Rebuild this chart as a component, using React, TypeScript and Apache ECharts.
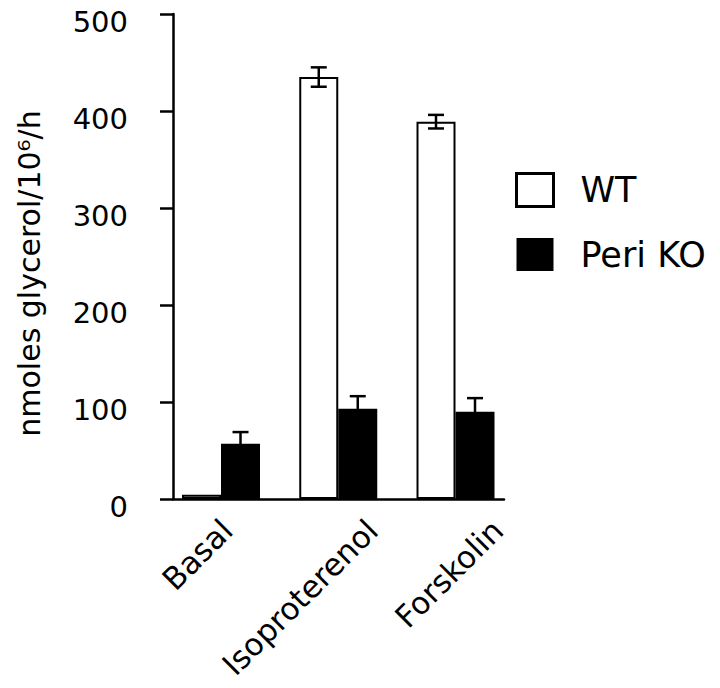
import React, { useEffect, useRef } from "react";
import * as echarts from "echarts";

const categories = ["Basal", "Isoproterenol", "Forskolin"];
const seriesNames = ["WT", "Peri KO"];
const wtMeans = [4.5, 435, 389];
const wtErrors = [0, 10, 7];
const koMeans = [57, 93, 90];
const koErrors = [12, 13, 14];
const yTicks = [0, 100, 200, 300, 400, 500];
const yTitle = "nmoles glycerol/10⁶/h";

const FONT = "DejaVu Sans";
const labelShift = [6, 34, 42];

export default function App() {
  const ref = useRef<HTMLDivElement>(null);
  useEffect(() => {
    if (!ref.current) return;
    const chart = echarts.init(ref.current, null, { renderer: "svg" });
    const xs = categories.map((_, i) => i + 1);
    const barW = 39;

    const errSeries = (name: string, means: number[], errs: number[], side: number) => ({
      type: "custom",
      name,
      z: 5,
      data: xs.map((x, i) => [x, means[i], errs[i]]),
      renderItem: (params: any, api: any) => {
        const x = api.value(0);
        const m = api.value(1);
        const e = api.value(2);
        if (!e) return null;
        const top = api.coord([x, m + e]);
        const bot = api.coord([x, m - e]);
        const cx = top[0] + side * barW / 2;
        const cap = 8;
        const st = { stroke: "#000", lineWidth: 2.5 };
        return {
          type: "group",
          children: [
            { type: "line", shape: { x1: cx, y1: top[1], x2: cx, y2: bot[1] }, style: st },
            { type: "line", shape: { x1: cx - cap, y1: top[1], x2: cx + cap, y2: top[1] }, style: st },
            { type: "line", shape: { x1: cx - cap, y1: bot[1], x2: cx + cap, y2: bot[1] }, style: st },
          ],
        };
      },
    });

    const option: any = {
      animation: false,
      backgroundColor: "#fff",
      textStyle: { fontFamily: FONT },
      grid: { left: 173, top: 14, width: 331, height: 485 },
      xAxis: {
        type: "value",
        min: 0.5906,
        max: 3.4136,
        axisLine: { show: true, onZero: false, lineStyle: { color: "#000", width: 2.5 } },
        axisTick: { show: false },
        axisLabel: { show: false },
        splitLine: { show: false },
      },
      yAxis: {
        type: "value",
        min: yTicks[0],
        max: yTicks[yTicks.length - 1],
        interval: yTicks[1] - yTicks[0],
        axisLine: { show: true, lineStyle: { color: "#000", width: 2.5 } },
        axisTick: { show: true, inside: false, length: 13, lineStyle: { color: "#000", width: 2.5 } },
        axisLabel: {
          color: "#000",
          fontSize: 29,
          fontFamily: FONT,
          margin: 45,
          verticalAlign: "top",
          lineHeight: 15,
        },
        splitLine: { show: false },
      },
      legend: {
        orient: "vertical",
        left: 515,
        top: 172,
        padding: 0,
        itemWidth: 37,
        itemHeight: 33,
        itemGap: 29,
        icon: "rect",
        data: [
          { name: seriesNames[0], itemStyle: { color: "#fff", borderColor: "#000", borderWidth: 3 } },
          { name: seriesNames[1], itemStyle: { color: "#000", borderWidth: 0 } },
        ],
        textStyle: { fontSize: 35, color: "#000", fontFamily: FONT, padding: [0, 0, 0, 22] },
      },
      series: [
        {
          type: "bar",
          name: seriesNames[0],
          barWidth: barW,
          barGap: "0%",
          data: xs.map((x, i) => [x, wtMeans[i]]),
          itemStyle: { color: "#fff", borderColor: "#000", borderWidth: 2 },
        },
        {
          type: "bar",
          name: seriesNames[1],
          barWidth: barW,
          barGap: "0%",
          data: xs.map((x, i) => [x, koMeans[i]]),
          itemStyle: { color: "#000" },
        },
        errSeries("WT SEM", wtMeans, wtErrors, -1),
        errSeries("Peri KO SEM", koMeans, koErrors, 1),
      ],
    };
    chart.setOption(option);

    const labels = categories.map((c, i) => {
      const p = chart.convertToPixel({ gridIndex: 0 }, [xs[i], 0]) as number[];
      return {
        type: "text",
        x: p[0] + labelShift[i],
        y: p[1] + 26,
        rotation: Math.PI / 4,
        style: {
          text: c,
          fontSize: 31,
          fontFamily: FONT,
          fill: "#000",
          align: "right",
          verticalAlign: "middle",
        },
      };
    });
    const mid = chart.convertToPixel({ gridIndex: 0 }, [xs[0], (yTicks[0] + yTicks[yTicks.length - 1]) / 2]) as number[];
    chart.setOption({
      graphic: [
        ...labels,
        {
          type: "text",
          x: 29,
          y: mid[1] + 17,
          rotation: Math.PI / 2,
          style: {
            text: yTitle,
            fontSize: 30,
            fontFamily: FONT,
            fill: "#000",
            align: "center",
            verticalAlign: "middle",
          },
        },
      ],
    });

    return () => chart.dispose();
  }, []);
  return <div ref={ref} style={{ width: 720, height: 688, position: "absolute", left: 0, top: 0 }} />;
}
